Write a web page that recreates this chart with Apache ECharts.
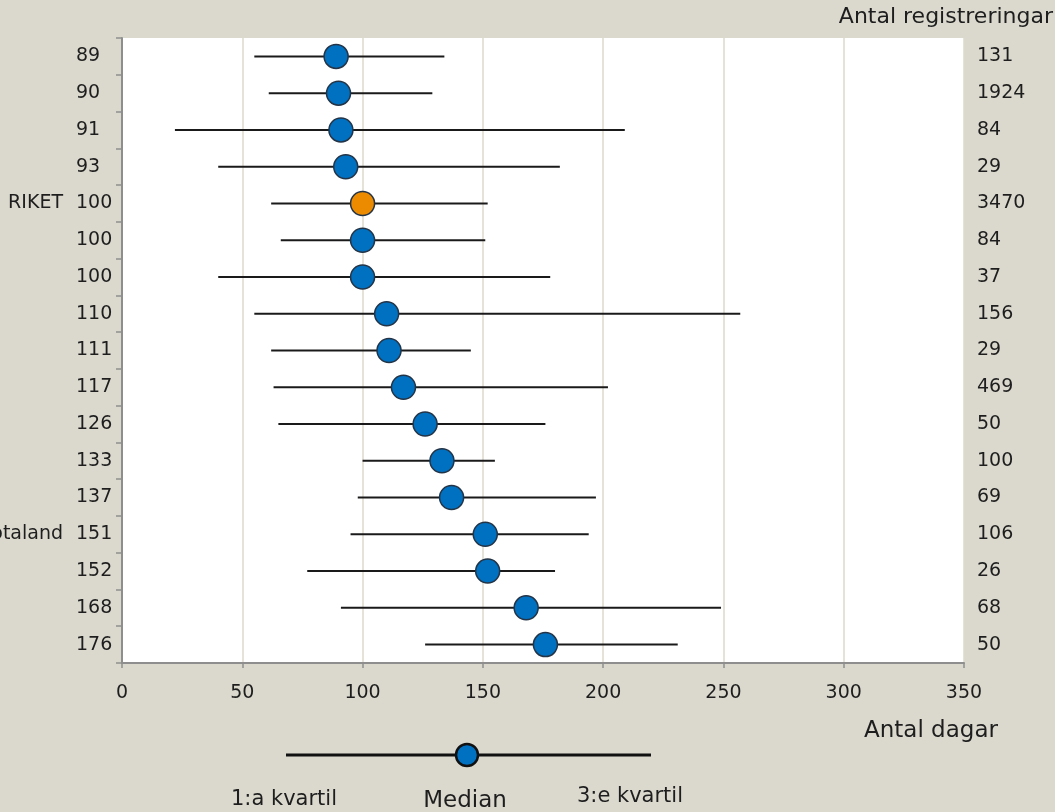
<!DOCTYPE html>
<html>
<head>
<meta charset="utf-8">
<script src="https://cdn.jsdelivr.net/npm/echarts@6/dist/echarts.min.js"></script>
<style>
html,body{margin:0;padding:0;background:#dbd9ce;}
#c{width:1055px;height:812px;}
</style>
</head>
<body>
<div id="c"></div>
<script>
// Data
const names   = ['', '', '', '', 'RIKET', '', '', '', '', '', '', '', '', 'Västra Götaland', '', '', ''];
const medians = [89, 90, 91, 93, 100, 100, 100, 110, 111, 117, 126, 133, 137, 151, 152, 168, 176];
const q1      = [55, 61, 22, 40, 62, 66, 40, 55, 62, 63, 65, 100, 98, 95, 77, 91, 126];
const q3      = [134, 129, 209, 182, 152, 151, 178, 257, 145, 202, 176, 155, 197, 194, 180, 249, 231];
const counts  = [131, 1924, 84, 29, 3470, 84, 37, 156, 29, 469, 50, 100, 69, 106, 26, 68, 50];
const xTicks  = [0, 50, 100, 150, 200, 250, 300, 350];

const FONT = 'DejaVu Sans';
const TXT = '#1e1e1e';
const NUM = 19;

const chart = echarts.init(document.getElementById('c'), null, {renderer: 'canvas'});
chart.setOption({
  backgroundColor: '#dbd9ce',
  animation: false,
  textStyle: {fontFamily: FONT, color: TXT},
  grid: {left: 122, right: 91, top: 38, bottom: 149, containLabel: false, outerBoundsMode: 'none',
         show: true, backgroundColor: '#ffffff', borderWidth: 0},
  xAxis: {
    type: 'value', min: xTicks[0], max: xTicks[xTicks.length - 1], interval: 50,
    axisLine: {show: true, lineStyle: {color: '#8e8e8e', width: 2}},
    axisTick: {show: true, length: 5, lineStyle: {color: '#8e8e8e', width: 1.5}},
    splitLine: {show: true, lineStyle: {color: '#dcdacb', width: 1.5}},
    axisLabel: {fontFamily: FONT, fontSize: NUM, color: TXT, margin: 21}
  },
  yAxis: [
    {
      // names (right-aligned, left of the median column)
      type: 'category', data: names.map((n, i) => n + '#' + i), inverse: true, position: 'left',
      axisLine: {show: true, onZero: false, lineStyle: {color: '#8e8e8e', width: 2}},
      axisTick: {show: true, length: 6, lineStyle: {color: '#8e8e8e', width: 1.5}},
      splitLine: {show: false},
      axisLabel: {margin: 59, align: 'right', fontFamily: FONT, fontSize: NUM, color: TXT,
                  formatter: (v, i) => names[i]}
    },
    {
      // median column (left-aligned numbers)
      type: 'category', data: medians.map(String), inverse: true, position: 'left', offset: 0,
      axisLine: {show: false}, axisTick: {show: false}, splitLine: {show: false},
      axisLabel: {margin: 46, align: 'left', fontFamily: FONT, fontSize: NUM, color: TXT}
    },
    {
      type: 'category', data: counts.map(String), inverse: true, position: 'right',
      axisLine: {show: false}, axisTick: {show: false}, splitLine: {show: false},
      axisLabel: {margin: 13, align: 'left', fontFamily: FONT, fontSize: NUM, color: TXT}
    }
  ],
  series: [
    {
      type: 'custom', xAxisIndex: 0, yAxisIndex: 0, z: 2,
      data: q1.map((v, i) => [v, q3[i], i]),
      encode: {x: [0, 1], y: 2},
      renderItem: (params, api) => {
        const s = api.coord([api.value(0), api.value(2)]);
        const e = api.coord([api.value(1), api.value(2)]);
        return {type: 'line', shape: {x1: s[0], y1: s[1], x2: e[0], y2: e[1]},
                style: {stroke: '#1a1a1a', lineWidth: 2}};
      }
    },
    {
      type: 'scatter', xAxisIndex: 0, yAxisIndex: 0, z: 5,
      symbol: 'circle', symbolSize: 24,
      itemStyle: {color: '#0070c0', borderColor: '#233447', borderWidth: 1.5, opacity: 1},
      data: medians.map((m, i) => names[i] === 'RIKET'
        ? {value: [m, i], itemStyle: {color: '#ec8a00'}}
        : {value: [m, i]})
    }
  ],
  graphic: [
    {type: 'text', right: 2, top: 6, style: {text: 'Antal registreringar', font: '22px "DejaVu Sans"', fill: TXT}},
    {type: 'text', left: 864, top: 720, style: {text: 'Antal dagar', font: '23px "DejaVu Sans"', fill: TXT}},
    {type: 'line', shape: {x1: 286, y1: 755, x2: 651, y2: 755}, style: {stroke: '#111', lineWidth: 3}},
    {type: 'circle', shape: {cx: 467, cy: 755, r: 11}, style: {fill: '#0070c0', stroke: '#111', lineWidth: 2.5}, z: 10},
    {type: 'text', x: 284, y: 800, style: {text: '1:a kvartil', font: '21px "DejaVu Sans"', fill: TXT, textAlign: 'center', textVerticalAlign: 'middle'}},
    {type: 'text', x: 465, y: 801, style: {text: 'Median', font: '23px "DejaVu Sans"', fill: TXT, textAlign: 'center', textVerticalAlign: 'middle'}},
    {type: 'text', x: 630, y: 797, style: {text: '3:e kvartil', font: '21px "DejaVu Sans"', fill: TXT, textAlign: 'center', textVerticalAlign: 'middle'}}
  ]
});
</script>
</body>
</html>
